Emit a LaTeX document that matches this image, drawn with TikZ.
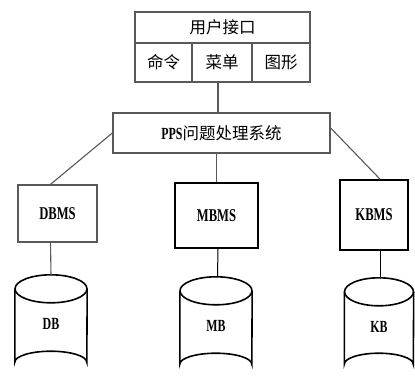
\documentclass[tikz,border=0pt]{standalone}
\usepackage{fontspec}
\newfontfamily\cjk[BoldFont={Noto Sans CJK SC Bold}]{Noto Sans CJK SC}
\newfontfamily\lat[FakeStretch=0.7]{Liberation Serif}
\usetikzlibrary{calc}
\tikzset{
  x=1pt, y=-1pt,
  graybox/.style={draw=black!65, line width=1.3pt, inner sep=0pt, font=\cjk\fontsize{16.5}{16.5}\selectfont},
  darkbox/.style={draw=black, line width=1.8pt, inner sep=0pt},
  link/.style={draw=black!65, line width=1.1pt},
  darklink/.style={draw=black, line width=1pt},
  drumbox/.style={inner sep=0pt, font=\lat\bfseries\fontsize{17}{17}\selectfont},
  latlabel/.style={font=\lat\bfseries\fontsize{18}{18}\selectfont},
}
\newcommand\drum[2]{% #1 node name, #2 colour
  \draw[draw=#2, line width=1.6pt]
    ($(#1.north west)+(0,14)$) -- ($(#1.south west)+(0,-11)$)
    arc[start angle=180, end angle=360, x radius=\rxd, y radius=11]
    -- ($(#1.north east)+(0,14)$);
  \draw[draw=#2, line width=1.6pt] ($(#1.north)+(0,14)$) ellipse[x radius=\rxd, y radius=14];
}
\begin{document}
\begin{tikzpicture}
\useasboundingbox[fill=white] (0,0) rectangle (415,376);
% user interface
\node[graybox, minimum width=175pt, minimum height=31pt] (ui) at (222.5,27.5) {用户接口};
\node[graybox, minimum width=57pt, minimum height=39pt] (cmd) at (163.5,62.5) {命令};
\node[graybox, minimum width=60pt, minimum height=39pt] (menu) at (222,62.5) {菜单};
\node[graybox, minimum width=58pt, minimum height=39pt] (gfx) at (281,62.5) {图形};
% PPS
\node[graybox, minimum width=217pt, minimum height=40pt] (pps) at (221.5,133) {{\lat\bfseries\fontsize{17}{17}\selectfont PPS}问题处理系统};
% subsystems
\node[graybox, latlabel, minimum width=79pt, minimum height=57pt] (dbms) at (57.5,213.5) {DBMS};
\node[darkbox, latlabel, minimum width=83pt, minimum height=65pt] (mbms) at (216.5,215.5) {MBMS};
\node[darkbox, latlabel, minimum width=68pt, minimum height=70pt] (kbms) at (374,215) {KBMS};
% drums
\node[drumbox, minimum width=72pt, minimum height=98pt] (db) at (51,324) {DB};
\node[drumbox, minimum width=72pt, minimum height=98pt] (mb) at (216,326) {MB};
\node[drumbox, minimum width=69pt, minimum height=97pt] (kb) at (379,326.5) {KB};
\def\rxd{36}
\drum{db}{black}
\drum{mb}{black}
\def\rxd{34.5}
\drum{kb}{black}
% connectors
\draw[link] ([xshift=-4pt]menu.south) -- ([xshift=-4pt]menu.south |- pps.north);
\draw[link] (pps.west) -- ([xshift=-7pt]dbms.north);
\draw[link] ([yshift=5pt]pps.east) -- ([xshift=6pt]kbms.north);
\draw[link] (pps.south -| mbms.north) -- (mbms.north);
\draw[link] ([xshift=-7pt]dbms.south) -- (db.north);
\draw[darklink] ([xshift=1.5pt]mbms.south) -- ([xshift=1.5pt]mb.north);
\draw[darklink] ([xshift=6pt]kbms.south) -- ([xshift=1pt]kb.north);
\end{tikzpicture}
\end{document}
